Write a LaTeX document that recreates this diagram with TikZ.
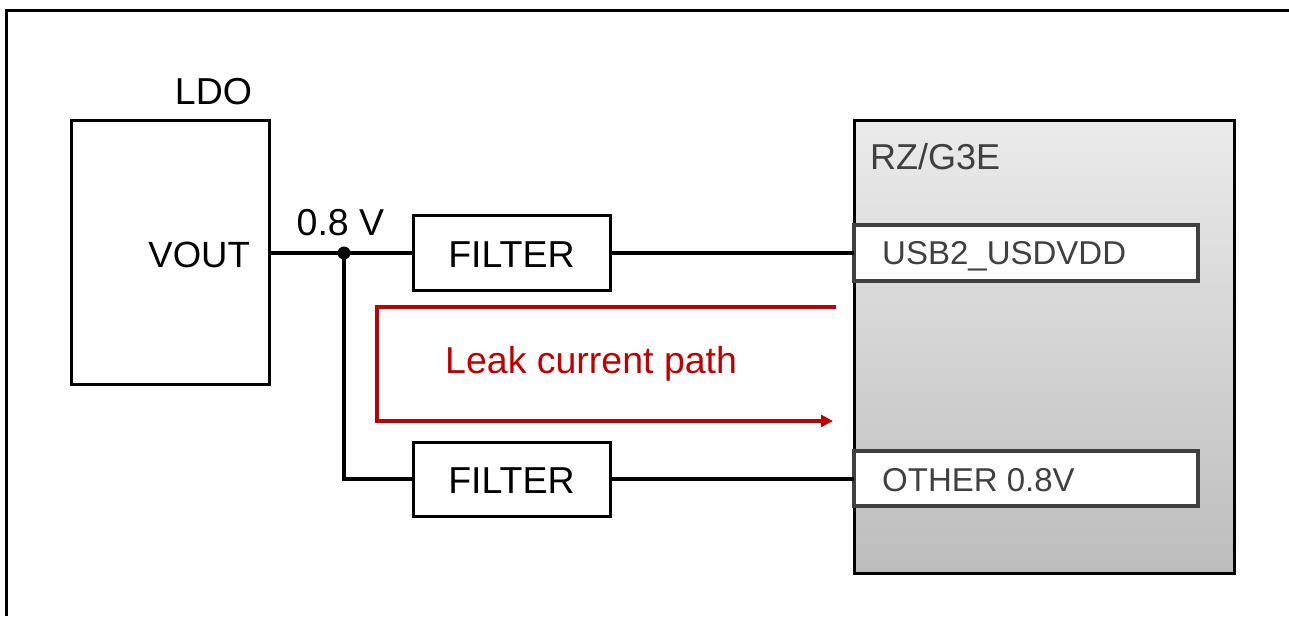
\documentclass[tikz,border=0pt]{standalone}
\usepackage{fontspec}
\setmainfont{Liberation Sans}
\usetikzlibrary{arrows.meta}
\definecolor{leak}{HTML}{C00000}
\definecolor{pingray}{HTML}{404040}
\definecolor{rztop}{HTML}{EBEBEB}
\definecolor{rzbot}{HTML}{BDBDBD}
\tikzset{
  bigtext/.style={font=\fontsize{37.5}{41}\selectfont},
  pintext/.style={font=\fontsize{33}{36}\selectfont, text=pingray},
  blockbox/.style={draw, line width=3pt, fill=white, inner sep=0pt, outer sep=0pt, anchor=north west},
  pinbox/.style={draw=pingray, line width=3.5pt, fill=white, inner sep=0pt, outer sep=0pt, anchor=north west},
  wire/.style={line width=3.5pt},
  leakline/.style={draw=leak, line width=4pt},
  jdot/.style={circle, fill=black, draw=none, inner sep=0pt, outer sep=0pt, minimum size=13pt},
}
\begin{document}
\begin{tikzpicture}[x=1pt,y=-1pt]
\useasboundingbox (0,0) rectangle (1289,616);
% outer frame (left and top only)
\coordinate (frameBL) at (6.5,616);
\coordinate (frameTL) at (6.5,10.5);
\coordinate (frameTR) at (1289,10.5);
\draw[line width=3pt] (frameBL) -- (frameTL) -- (frameTR);

% LDO
\node[blockbox, minimum width=198pt, minimum height=264pt] (ldo) at (71,120) {};
\node[bigtext, anchor=base] (ldolabel) at (213.5,104) {LDO};
\node[font=\fontsize{36.5}{40}\selectfont, anchor=base east, inner sep=0pt] (vout) at (250,267) {VOUT};

% filters
\node[blockbox, minimum width=197pt, minimum height=75pt] (f1) at (413,215) {};
\node[bigtext, anchor=base] (f1text) at (511.5,267) {FILTER};
\node[blockbox, minimum width=197pt, minimum height=74pt] (f2) at (413,442) {};
\node[bigtext, anchor=base] (f2text) at (511.5,493) {FILTER};

% RZ/G3E chip
\node[draw, line width=3pt, top color=rztop, bottom color=rzbot, inner sep=0pt, outer sep=0pt,
      anchor=north west, minimum width=380pt, minimum height=453pt] (rz) at (854,120) {};
\node[pintext, font=\fontsize{36}{40}\selectfont, anchor=base west, inner sep=0pt] (rzlabel) at (870,169) {RZ/G3E};

% pins
\node[pinbox, minimum width=344pt, minimum height=56pt] (usb) at (854,225) {};
\node[pintext, anchor=base west, inner sep=0pt] (usbtext) at (882,264) {USB2\_USDVDD};
\node[pinbox, minimum width=344pt, minimum height=55pt] (oth) at (854,451) {};
\node[pintext, anchor=base west, inner sep=0pt] (othtext) at (882,491.5) {OTHER 0.8V};

% junction and wires
\coordinate (jc) at (344,253);
\coordinate (jdown) at (344,479);
\node[bigtext, anchor=base] (volt) at (340.5,235) {0.8 V};
\draw[wire] (ldo.east |- jc) -- (jc) -- (f1.west |- jc);
\draw[wire] (jc) -- (jdown) -- (f2.west |- jdown);
\draw[wire] (f1.east |- jc) -- (usb.west |- jc);
\draw[wire] (f2.east |- jdown) -- (oth.west |- jdown);
\node[jdot] (j) at (jc) {};

% leak current path
\coordinate (lk1) at (836,307);
\coordinate (lk2) at (377,307);
\coordinate (lk3) at (377,421);
\coordinate (lk4) at (833,421);
\draw[leakline, -{Triangle[length=12pt,width=12pt]}] (lk1) -- (lk2) -- (lk3) -- (lk4);
\node[bigtext, text=leak, anchor=base west, inner sep=0pt] (leaktext) at (445,373.5) {Leak current path};
\end{tikzpicture}
\end{document}
